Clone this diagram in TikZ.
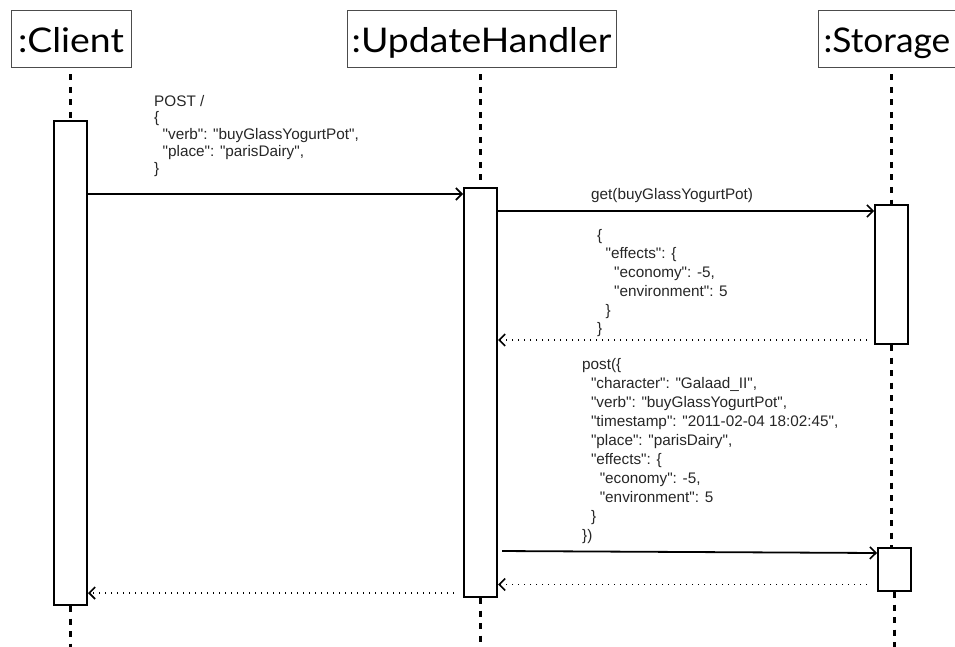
\documentclass[tikz,border=0pt]{standalone}
\usepackage{fontspec}
\setmainfont{Liberation Sans}
\newfontfamily\jf{Liberation Sans}
\newfontfamily\hdrfont{Lato}[FakeStretch=1.1]
\newfontfamily\hdrfontb{Lato}[FakeStretch=1.04]
\usetikzlibrary{arrows.meta}
\begin{document}
\begin{tikzpicture}[x=1pt,y=-1pt,
  hdr/.style={draw=black!70, line width=1pt, minimum height=57pt, inner sep=0pt,
    text height=30pt, text depth=3pt,
    font=\hdrfont\fontsize{34}{36}\selectfont},
  act/.style={draw, line width=2pt, minimum width=33pt, inner sep=0pt, fill=white},
  life/.style={line width=3pt, dash pattern=on 6pt off 6.5pt},
  tip/.style={-{Straight Barb[length=6pt,width=12pt,line width=1.6pt]}},
  msg/.style={tip, line width=1.8pt},
  ret/.style={tip, line width=1.5pt, dash pattern=on 1.5pt off 4.5pt},
  txt/.style={font=\jf\fontsize{15.3}{#1}\selectfont, text=black!85, align=left, inner sep=0pt, anchor=north west},
  txt/.default=18.7
]
\useasboundingbox (0,0) rectangle (955,647);
\clip (0,0) rectangle (955,647);

% headers
\node[hdr, minimum width=120pt] (client) at (71,39.5) {:Client};
\node[hdr, minimum width=269pt] (handler) at (481.5,39.5) {:UpdateHandler};
\node[hdr, font=\hdrfontb\fontsize{34}{36}\selectfont, anchor=west, text width=160pt, align=left, inner xsep=5pt] (storage) at (818,39.5) {:Storage};

% activation boxes
\node[act, minimum height=484pt] (cA) at (70.5,363) {};
\node[act, minimum height=409pt] (uA) at (480.5,392.5) {};
\node[act, minimum height=139pt] (sA1) at (891.5,274.5) {};
\node[act, minimum height=43pt] (sA2) at (894.5,569.5) {};

% lifelines
\coordinate (bottom) at (0,650);
\draw[life] (cA.north |- client.south) ++(0,6) -- (cA.north);
\draw[life] (cA.south) -- (cA.south |- bottom);
\draw[life] (uA.north |- handler.south) ++(0,6) -- (uA.north);
\draw[life] (uA.south) -- (uA.south |- bottom);
\draw[life] (sA1.north |- storage.south) ++(0,6) -- (sA1.north);
\draw[life] (sA1.south) -- (sA1.south |- sA2.north);
\draw[life] (sA2.south) -- (sA2.south |- bottom);

% messages
\draw[msg] (cA.east |- 0,194) -- (uA.west |- 0,194);
\draw[msg] (uA.east |- 0,211) -- (sA1.west |- 0,211);
\draw[ret, shorten <=7pt] (sA1.west |- 0,340) -- (uA.east |- 0,340);
\draw[msg, shorten <=4pt] (uA.east |- 0,551) -- (sA2.west |- 0,553);
\draw[ret, shorten <=10pt] (sA2.west |- 0,584.5) -- (uA.east |- 0,584.5);
\draw[ret, shorten <=9pt] (uA.west |- 0,593) -- (cA.east |- 0,593);

% labels
\node[txt=16.7] (postreq) at (154,95) {POST /\\
{\{}\\
\hspace*{8.5pt}"verb": "buyGlassYogurtPot",\\
\hspace*{8.5pt}"place": "parisDairy",\\
{\}}};
\node[font=\jf\fontsize{15.3}{18}\selectfont, text=black!85, inner sep=0pt, anchor=base west] (getlbl) at (591,200) {get(buyGlassYogurtPot)};
\node[txt=18.7] (getres) at (597,229) {{\{}\\
\hspace*{8.5pt}"effects": \{\\
\hspace*{17pt}"economy": -5,\\
\hspace*{17pt}"environment": 5\\
\hspace*{8.5pt}\}\\
{\}}};
\node[txt=19] (postlbl) at (582,358) {post(\{\\
\hspace*{8.8pt}"character": "Galaad\_II",\\
\hspace*{8.8pt}"verb": "buyGlassYogurtPot",\\
\hspace*{8.8pt}"timestamp": "2011-02-04 18:02:45",\\
\hspace*{8.8pt}"place": "parisDairy",\\
\hspace*{8.8pt}"effects": \{\\
\hspace*{17.6pt}"economy": -5,\\
\hspace*{17.6pt}"environment": 5\\
\hspace*{8.8pt}\}\\
\})};
\end{tikzpicture}
\end{document}
